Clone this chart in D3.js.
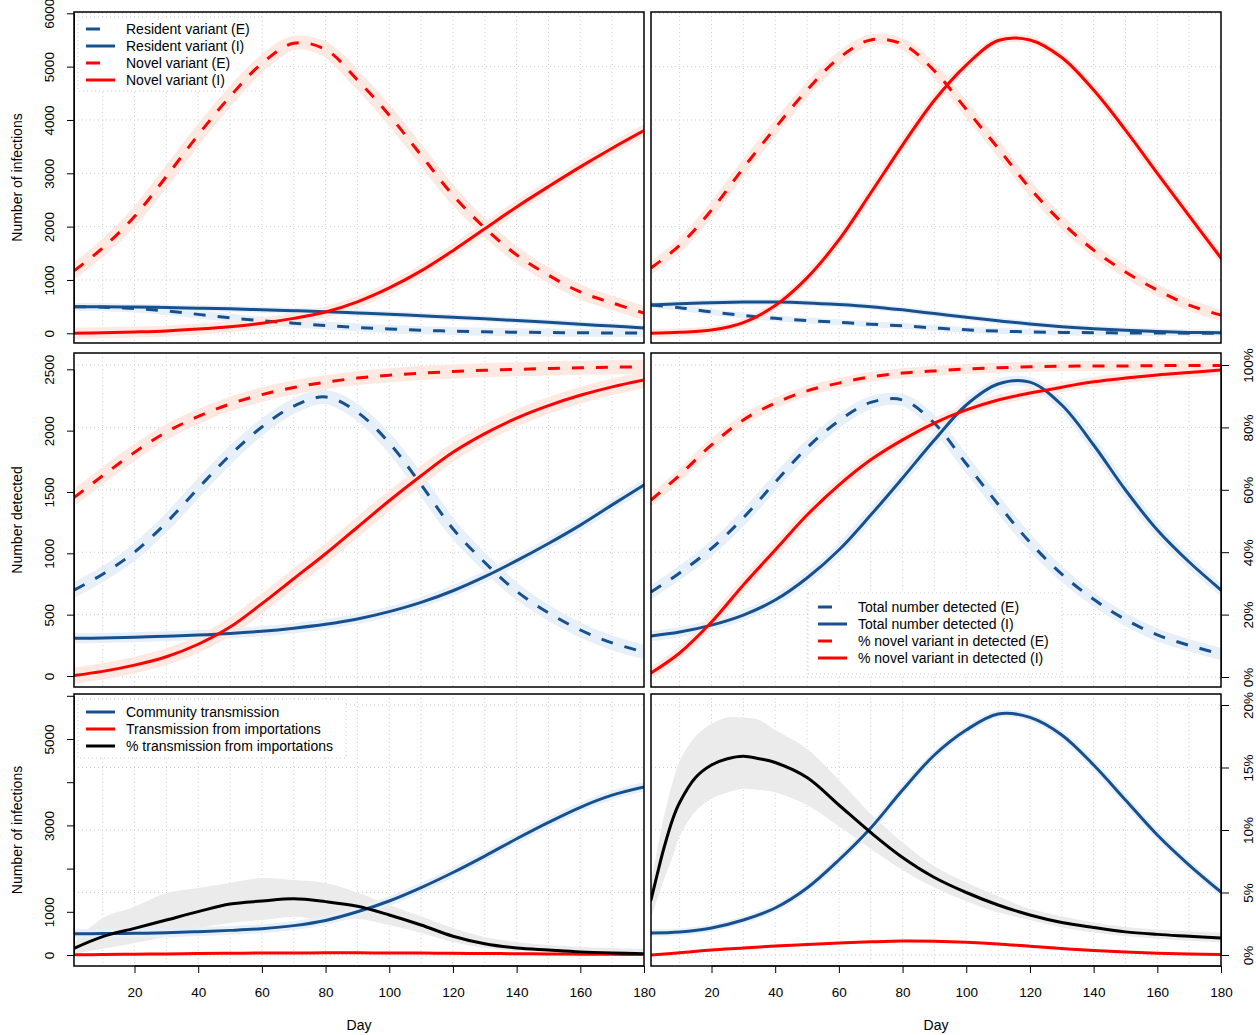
<!DOCTYPE html>
<html>
<head>
<meta charset="utf-8">
<script src="https://cdn.jsdelivr.net/npm/d3@7"></script>
<style>
  body { margin: 0; background: #fff; }
  text { font-family: "Liberation Sans", Arial, Helvetica, sans-serif; fill: #000; }
</style>
</head>
<body>
<svg id="chart" width="1256" height="1035"></svg>
<script>
// ---- days sampled for every series ----
const days = [1, 10, 20, 30, 40, 50, 60, 70, 80, 90, 100, 110, 120, 130, 140, 150, 160, 170, 180];
const daysImport = [1, 3, 5, 8, 10, 15, 20, 25, 30, 35, 40, 50, 60, 70, 80, 90, 100, 110, 120, 130, 140, 150, 160, 170, 180];

// ---- ticks and labels ----
const dayTicks = [20, 40, 60, 80, 100, 120, 140, 160, 180];
const gridDays = [10, 20, 30, 40, 50, 60, 70, 80, 90, 100, 110, 120, 130, 140, 150, 160, 170];
const infectionTicks = [0, 1000, 2000, 3000, 4000, 5000, 6000];
const infectionLabelsBottom = [0, 1000, 3000, 5000];
const detectedTicks = [0, 500, 1000, 1500, 2000, 2500];
const pctTicksMiddle = [0, 20, 40, 60, 80, 100];
const pctTicksBottom = [0, 5, 10, 15, 20];

// ---- top-left: infections by variant ----
const tlResidentE = [500, 490, 465, 420, 355, 290, 235, 190, 145, 110, 80, 57, 40, 28, 20, 14, 10, 7, 5];
const tlResidentI = [500, 498, 492, 483, 472, 458, 442, 425, 405, 382, 357, 330, 302, 272, 240, 205, 170, 135, 100];
const tlNovelE = [1170, 1600, 2190, 2940, 3720, 4440, 5060, 5440, 5320, 4750, 4090, 3340, 2590, 1975, 1470, 1090, 775, 570, 380];
const tlNovelI = [0, 10, 25, 45, 80, 125, 190, 280, 400, 590, 850, 1170, 1550, 1960, 2370, 2750, 3120, 3470, 3800];

// ---- top-right: infections by variant ----
const trResidentE = [530, 480, 400, 335, 280, 240, 205, 170, 140, 100, 65, 42, 27, 17, 11, 7, 5, 3, 2];
const trResidentI = [530, 555, 575, 585, 585, 570, 540, 500, 440, 370, 300, 235, 175, 125, 85, 55, 32, 17, 8];
const trNovelE = [1225, 1650, 2310, 3100, 3850, 4560, 5160, 5500, 5420, 4920, 4200, 3470, 2720, 2080, 1560, 1150, 810, 530, 340];
const trNovelI = [0, 20, 60, 200, 520, 1040, 1750, 2630, 3530, 4370, 5030, 5490, 5500, 5170, 4560, 3810, 3000, 2200, 1410];

// ---- middle-left: detections ----
const mlTotalE = [700, 830, 1010, 1250, 1530, 1800, 2030, 2200, 2275, 2150, 1900, 1560, 1200, 925, 690, 515, 375, 270, 196];
const mlTotalI = [307, 310, 316, 324, 334, 347, 365, 390, 422, 465, 525, 600, 695, 810, 940, 1080, 1230, 1395, 1557];
const mlPctE = [57.5, 64.5, 72, 78.5, 83.5, 87.5, 90.5, 92.8, 94.5, 95.8, 96.7, 97.4, 97.9, 98.3, 98.6, 98.9, 99.1, 99.3, 99.4];
const mlPctI = [0.5, 1.8, 3.8, 6.5, 10.5, 16, 23.5, 31.5, 39.5, 48, 56.5, 64.5, 72, 78, 83, 87, 90.3, 93, 95.2];

// ---- middle-right: detections ----
const mrTotalE = [684, 840, 1040, 1290, 1580, 1860, 2080, 2230, 2250, 2060, 1730, 1400, 1090, 830, 625, 460, 335, 250, 179];
const mrTotalI = [326, 358, 415, 497, 619, 799, 1027, 1312, 1614, 1923, 2209, 2380, 2395, 2209, 1883, 1516, 1190, 929, 701];
const mrPctE = [56.7, 64.7, 74.4, 82.4, 87.8, 91.7, 94.2, 96.2, 97.4, 98.1, 98.7, 99.1, 99.4, 99.6, 99.7, 99.7, 99.8, 99.8, 99.8];
const mrPctI = [1.3, 7.7, 17.6, 29.5, 40.7, 51.9, 61.5, 69.6, 76, 81.4, 85.6, 88.8, 91, 92.9, 94.6, 95.8, 96.8, 97.6, 98.4];

// ---- bottom-left: transmission source ----
const blCommunity = [490, 495, 502, 515, 540, 570, 610, 680, 800, 1000, 1250, 1560, 1910, 2290, 2690, 3070, 3420, 3700, 3890];
const blImport = [5, 10, 18, 26, 33, 40, 45, 48, 50, 50, 48, 45, 40, 35, 30, 25, 20, 16, 12];
const blPctImport = [0.53, 1.47, 2.13, 2.8, 3.47, 4.08, 4.32, 4.5, 4.27, 3.9, 3.2, 2.4, 1.5, 0.9, 0.56, 0.4, 0.25, 0.16, 0.1];
const blPctLow = [0.1, 0.5, 0.96, 1.47, 2.13, 2.56, 2.8, 3.07, 2.8, 2.9, 2.4, 1.76, 1.04, 0.56, 0.32, 0.24, 0.16, 0.08, 0.04];
const blPctHigh = [1.0, 2.96, 3.87, 4.96, 5.36, 5.76, 6.16, 6.0, 5.76, 5.0, 4.0, 3.1, 2.16, 1.44, 1.04, 0.8, 0.64, 0.56, 0.48];

// ---- bottom-right: transmission source ----
const brCommunity = [509, 532, 625, 810, 1088, 1551, 2199, 2940, 3819, 4630, 5208, 5580, 5500, 5093, 4398, 3588, 2778, 2083, 1458];
const brImport = [0, 50, 116, 160, 208, 245, 278, 305, 324, 318, 295, 255, 200, 150, 105, 70, 42, 25, 12];
const brPctImport = [4.4, 6.5, 8.5, 11.0, 12.2, 14.2, 15.2, 15.7, 15.9, 15.7, 15.4, 14.2, 12.0, 9.8, 7.8, 6.2, 5.0, 4.0, 3.2, 2.6, 2.2, 1.85, 1.65, 1.5, 1.35];
const brPctLow = [3.0, 4.5, 6.0, 8.0, 9.5, 11.5, 12.5, 13.0, 13.3, 13.2, 13.0, 12.0, 10.3, 8.5, 6.8, 5.4, 4.3, 3.4, 2.8, 2.2, 1.8, 1.5, 1.3, 1.15, 1.0];
const brPctHigh = [5.8, 8.5, 11.0, 14.0, 15.5, 17.5, 18.5, 19.0, 19.0, 18.8, 18.0, 16.5, 14.0, 11.3, 9.0, 7.1, 5.8, 4.7, 3.7, 3.1, 2.6, 2.25, 2.05, 1.9, 1.8];

// ---- styling ----
const BLUE = '#17508f', RED = '#ff0000', BLACK = '#000000';
const BLUE_HALO = '#e7eff8', RED_HALO = '#fde9e2', GREY_BAND = '#ebebeb';
const GRID = '#cfcfcf';
const DASH = '12,12';

const svg = d3.select('#chart');
svg.append('rect').attr('width', 1256).attr('height', 1035).attr('fill', '#fff');
const defs = svg.append('defs');

const cols = [{ x0: 74, x1: 644 }, { x0: 651, x1: 1221 }];
const rows = [{ y0: 12, y1: 343 }, { y0: 353, y1: 687 }, { y0: 694, y1: 966 }];

// y scales
const yTop = d3.scaleLinear().domain([0, 6000]).range([333.3, 13.3]);
const yMidN = d3.scaleLinear().domain([0, 2500]).range([676, 369.3]);
const yMidP = d3.scaleLinear().domain([0, 100]).range([677, 365]);
const yBotN = d3.scaleLinear().domain([0, 6000]).range([955, 695.8]);
const yBotP = d3.scaleLinear().domain([0, 20]).range([955, 705]);

function makePanel(c, r, gridScale, gridTicks) {
  const { x0, x1 } = cols[c], { y0, y1 } = rows[r];
  const x = d3.scaleLinear().domain([1, 180]).range([x0, x1]);
  const id = `clip-${c}-${r}`;
  defs.append('clipPath').attr('id', id).append('rect')
    .attr('x', x0).attr('y', y0).attr('width', x1 - x0).attr('height', y1 - y0);
  const g = svg.append('g');
  const plot = g.append('g').attr('clip-path', `url(#${id})`);
  const grid = plot.append('g').attr('stroke', GRID).attr('stroke-width', 1).attr('stroke-dasharray', '1,3');
  grid.selectAll('line.v').data(gridDays).join('line').attr('class', 'v')
    .attr('x1', d => x(d)).attr('x2', d => x(d)).attr('y1', y0).attr('y2', y1);
  grid.selectAll('line.h').data(gridTicks).join('line').attr('class', 'h')
    .attr('x1', x0).attr('x2', x1).attr('y1', d => gridScale(d)).attr('y2', d => gridScale(d));
  const legendBg = plot.append('g');
  const halos = plot.append('g');
  const lines = plot.append('g');
  g.append('rect').attr('x', x0).attr('y', y0).attr('width', x1 - x0).attr('height', y1 - y0)
    .attr('fill', 'none').attr('stroke', '#000').attr('stroke-width', 1.5);
  return { x, g, legendBg, halos, lines, x0, x1, y0, y1 };
}

function addSeries(p, xs, ys, yScale, st) {
  const line = d3.line().x((d, i) => p.x(xs[i])).y(d => yScale(d)).curve(d3.curveCatmullRom.alpha(0.5));
  if (st.halo) {
    p.halos.append('path').datum(ys).attr('d', line).attr('fill', 'none')
      .attr('stroke', st.haloColor).attr('stroke-width', st.halo)
      .attr('stroke-linecap', 'round').attr('stroke-linejoin', 'round');
  }
  p.lines.append('path').datum(ys).attr('d', line).attr('fill', 'none')
    .attr('stroke', st.color).attr('stroke-width', 3)
    .attr('stroke-dasharray', st.dash ? DASH : null)
    .attr('stroke-linecap', st.dash ? 'butt' : 'round').attr('stroke-linejoin', 'round');
}

function addBand(p, xs, lo, hi, yScale, color) {
  const area = d3.area().x((d, i) => p.x(xs[i])).y0((d, i) => yScale(lo[i])).y1((d, i) => yScale(hi[i]))
    .curve(d3.curveCatmullRom.alpha(0.5));
  p.halos.append('path').datum(xs).attr('d', area).attr('fill', color);
}

// legend: white box (dotted light border) hiding the grid, then samples and labels
function addLegend(p, x, y, box, items) {
  p.legendBg.append('rect').attr('x', box[0]).attr('y', box[1]).attr('width', box[2]).attr('height', box[3])
    .attr('fill', '#fff').attr('stroke', GRID).attr('stroke-dasharray', '1,3');
  items.forEach((it, i) => {
    const yy = y + i * 17;
    p.g.append('line').attr('x1', x).attr('x2', it.dash ? x + 14 : x + 29).attr('y1', yy).attr('y2', yy)
      .attr('stroke', it.color).attr('stroke-width', 3);
    p.g.append('text').attr('x', x + 40).attr('y', yy).attr('dy', '0.35em')
      .style('font-size', '14px').text(it.label);
  });
}

function styleAxis(a) {
  a.attr('font-size', null).attr('font-family', null);
  a.select('.domain').attr('stroke', '#000');
  a.selectAll('.tick line').attr('stroke', '#000');
  a.selectAll('.tick text').style('font-size', '13.5px').attr('fill', '#000');
}

function leftAxis(p, scale, ticks, fmt) {
  const a = p.g.append('g').attr('transform', `translate(${p.x0},0)`)
    .call(d3.axisLeft(scale).tickValues(ticks).tickSize(7).tickSizeOuter(0).tickFormat(fmt));
  styleAxis(a);
  a.selectAll('.tick text').attr('x', 0).attr('dy', null).attr('y', -20)
    .attr('transform', 'rotate(-90)').attr('text-anchor', 'middle');
}

function rightAxis(p, scale, ticks, fmt) {
  const a = p.g.append('g').attr('transform', `translate(${p.x1},0)`)
    .call(d3.axisRight(scale).tickValues(ticks).tickSize(8).tickSizeOuter(0).tickFormat(fmt));
  styleAxis(a);
  a.selectAll('.tick text').attr('x', 0).attr('dy', null).attr('y', 32)
    .attr('transform', 'rotate(-90)').attr('text-anchor', 'middle');
}

function bottomAxis(p) {
  const a = p.g.append('g').attr('transform', `translate(0,${p.y1})`)
    .call(d3.axisBottom(p.x).tickValues(dayTicks).tickSize(7).tickSizeOuter(0));
  styleAxis(a);
  a.select('.domain').remove();
  a.append('line').attr('x1', p.x(20)).attr('x2', p.x(180)).attr('stroke', '#000');
  a.selectAll('.tick text').attr('y', 31).attr('dy', null);
  svg.append('text').attr('x', (p.x0 + p.x1) / 2).attr('y', 1030).attr('text-anchor', 'middle')
    .style('font-size', '14px').text('Day');
}

function yTitle(text, cy) {
  svg.append('text').attr('transform', `translate(22,${cy}) rotate(-90)`).attr('text-anchor', 'middle')
    .style('font-size', '14px').text(text);
}

const intFmt = d => String(d);
const pctFmt = d => d + '%';

// ---- top row ----
const pTL = makePanel(0, 0, yTop, infectionTicks);
addSeries(pTL, days, tlResidentE, yTop, { color: BLUE, dash: true, halo: 8, haloColor: BLUE_HALO });
addSeries(pTL, days, tlResidentI, yTop, { color: BLUE, halo: 6, haloColor: BLUE_HALO });
addSeries(pTL, days, tlNovelE, yTop, { color: RED, dash: true, halo: 14, haloColor: RED_HALO });
addSeries(pTL, days, tlNovelI, yTop, { color: RED, halo: 11, haloColor: RED_HALO });
leftAxis(pTL, yTop, infectionTicks, intFmt);
addLegend(pTL, 86, 29, [78, 17, 184, 74], [
  { label: 'Resident variant (E)', color: BLUE, dash: true },
  { label: 'Resident variant (I)', color: BLUE },
  { label: 'Novel variant (E)', color: RED, dash: true },
  { label: 'Novel variant (I)', color: RED }
]);
yTitle('Number of infections', 177.5);

const pTR = makePanel(1, 0, yTop, infectionTicks);
addSeries(pTR, days, trResidentE, yTop, { color: BLUE, dash: true, halo: 6, haloColor: BLUE_HALO });
addSeries(pTR, days, trResidentI, yTop, { color: BLUE, halo: 6, haloColor: BLUE_HALO });
addSeries(pTR, days, trNovelE, yTop, { color: RED, dash: true, halo: 11, haloColor: RED_HALO });
addSeries(pTR, days, trNovelI, yTop, { color: RED, halo: 8, haloColor: RED_HALO });

// ---- middle row ----
const pML = makePanel(0, 1, yMidP, pctTicksMiddle);
addSeries(pML, days, mlTotalE, yMidN, { color: BLUE, dash: true, halo: 14, haloColor: BLUE_HALO });
addSeries(pML, days, mlTotalI, yMidN, { color: BLUE, halo: 10, haloColor: BLUE_HALO });
addSeries(pML, days, mlPctE, yMidP, { color: RED, dash: true, halo: 14, haloColor: RED_HALO });
addSeries(pML, days, mlPctI, yMidP, { color: RED, halo: 16, haloColor: RED_HALO });
leftAxis(pML, yMidN, detectedTicks, intFmt);
yTitle('Number detected', 520);

const pMR = makePanel(1, 1, yMidP, pctTicksMiddle);
addSeries(pMR, days, mrTotalE, yMidN, { color: BLUE, dash: true, halo: 12, haloColor: BLUE_HALO });
addSeries(pMR, days, mrTotalI, yMidN, { color: BLUE, halo: 10, haloColor: BLUE_HALO });
addSeries(pMR, days, mrPctE, yMidP, { color: RED, dash: true, halo: 10, haloColor: RED_HALO });
addSeries(pMR, days, mrPctI, yMidP, { color: RED, halo: 10, haloColor: RED_HALO });
rightAxis(pMR, yMidP, pctTicksMiddle, pctFmt);
addLegend(pMR, 818, 607, [808, 593, 254, 81], [
  { label: 'Total number detected (E)', color: BLUE, dash: true },
  { label: 'Total number detected (I)', color: BLUE },
  { label: '% novel variant in detected (E)', color: RED, dash: true },
  { label: '% novel variant in detected (I)', color: RED }
]);

// ---- bottom row ----
const pBL = makePanel(0, 2, yBotP, pctTicksBottom);
addBand(pBL, days, blPctLow, blPctHigh, yBotP, GREY_BAND);
addSeries(pBL, days, blCommunity, yBotN, { color: BLUE, halo: 9, haloColor: BLUE_HALO });
addSeries(pBL, days, blImport, yBotN, { color: RED });
addSeries(pBL, days, blPctImport, yBotP, { color: BLACK });
leftAxis(pBL, yBotN, infectionTicks, d => infectionLabelsBottom.includes(d) ? String(d) : '');
bottomAxis(pBL);
addLegend(pBL, 86, 712, [78, 699, 268, 59], [
  { label: 'Community transmission', color: BLUE },
  { label: 'Transmission from importations', color: RED },
  { label: '% transmission from importations', color: BLACK }
]);
yTitle('Number of infections', 830);

const pBR = makePanel(1, 2, yBotP, pctTicksBottom);
addBand(pBR, daysImport, brPctLow, brPctHigh, yBotP, GREY_BAND);
addSeries(pBR, days, brCommunity, yBotN, { color: BLUE, halo: 7, haloColor: BLUE_HALO });
addSeries(pBR, days, brImport, yBotN, { color: RED });
addSeries(pBR, daysImport, brPctImport, yBotP, { color: BLACK });
rightAxis(pBR, yBotP, pctTicksBottom, pctFmt);
bottomAxis(pBR);
</script>
</body>
</html>
